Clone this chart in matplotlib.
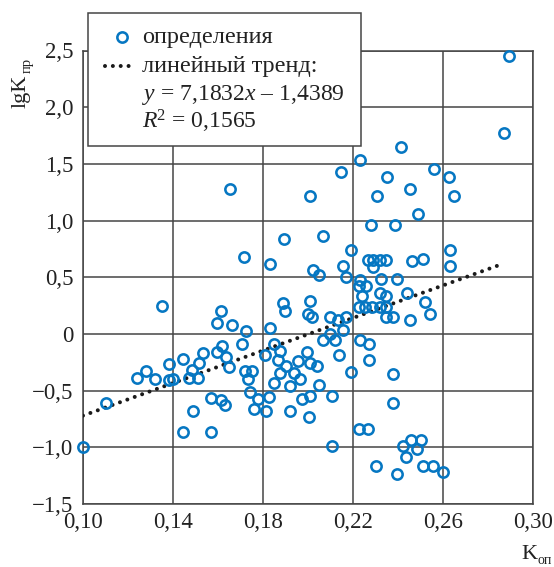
import matplotlib
matplotlib.use('Agg')
import matplotlib.pyplot as plt
from matplotlib.lines import Line2D
from matplotlib.patches import Rectangle

plt.rcParams['font.family'] = ['Liberation Serif', 'DejaVu Serif']
plt.rcParams['mathtext.fontset'] = 'custom'
plt.rcParams['mathtext.rm'] = 'Liberation Serif'
plt.rcParams['mathtext.it'] = 'Liberation Serif:italic'

# ---- data ----
k_op = [0.100, 0.110, 0.124, 0.128, 0.132, 0.1353, 0.138, 0.138, 0.140, 0.1445,
        0.1443, 0.147, 0.1485, 0.149, 0.151, 0.1517, 0.1535, 0.1568, 0.157, 0.1597,
        0.1597, 0.1613, 0.1618, 0.1615, 0.163, 0.1637, 0.1647, 0.1663, 0.1653, 0.1716,
        0.1724, 0.1705, 0.172, 0.1751, 0.1731, 0.1742, 0.1758, 0.1779, 0.1815, 0.1824,
        0.1809, 0.1831, 0.1831, 0.1849, 0.1876, 0.1864, 0.1848, 0.1876, 0.1888, 0.1896,
        0.1893, 0.1903, 0.192, 0.192, 0.1935, 0.1953, 0.1964, 0.1972, 0.2003, 0.1997,
        0.2006, 0.2039, 0.205, 0.2009, 0.2105, 0.2105, 0.1999, 0.2016, 0.2006, 0.2009,
        0.202, 0.2047, 0.2064, 0.2095, 0.2133, 0.2166, 0.2157, 0.2098, 0.2066, 0.212,
        0.2135, 0.2146, 0.2157, 0.2166, 0.2191, 0.2191, 0.2231, 0.2231, 0.2272, 0.2272,
        0.2224, 0.2264, 0.2302, 0.2279, 0.2304, 0.2264, 0.2286, 0.2317, 0.2347, 0.2286,
        0.2231, 0.2224, 0.2259, 0.2322, 0.2396, 0.2239, 0.232, 0.2347, 0.2224, 0.2253,
        0.2283, 0.232, 0.2347, 0.2347, 0.2379, 0.2351, 0.2387, 0.2379, 0.2379, 0.2394,
        0.2412, 0.242, 0.2436, 0.2456, 0.2501, 0.2483, 0.2511, 0.2556, 0.2599, 0.2453,
        0.2487, 0.2441, 0.2453, 0.246, 0.2508, 0.252, 0.2542, 0.2557, 0.2626, 0.2646,
        0.2631, 0.2629, 0.2868, 0.289]
lg_k = [-1.00, -0.61, -0.386, -0.33, -0.40, 0.25, -0.267, -0.41, -0.40, -0.224,
        -0.862, -0.385, -0.318, -0.68, -0.385, -0.259, -0.17, -0.862, -0.562, 0.10,
        -0.16, 0.20, -0.106, -0.58, -0.63, -0.203, -0.288, 0.075, 1.278, 0.68,
        0.024, -0.09, -0.326, -0.328, -0.40, -0.51, -0.662, -0.572, -0.68, -0.56,
        -0.185, 0.056, 0.618, -0.085, -0.153, -0.234, -0.432, -0.347, 0.27, 0.20,
        0.836, -0.28, -0.463, -0.678, -0.347, -0.238, -0.40, -0.576, -0.73, -0.156,
        -0.259, -0.282, -0.45, -0.547, -0.547, -0.988, 0.178, 0.153, 0.29, 1.215,
        0.568, 0.52, 0.862, 0.15, 0.124, 0.15, 0.033, 0.003, -0.056, -0.056,
        -0.185, 1.427, 0.60, 0.50, 0.738, -0.332, 1.535, -0.056, -0.088, -0.232,
        -0.835, -0.835, -1.168, 0.962, 1.215, 0.65, 0.65, 0.65, 0.65, 0.594,
        0.48, 0.424, 0.424, 0.483, 0.483, 0.338, 0.359, 0.338, 0.241, 0.241,
        0.241, 0.241, 0.241, 0.15, 0.15, 1.38, 0.962, -0.353, -0.61, -1.238,
        1.653, -0.987, -1.082, -0.935, -0.932, -1.012, -1.168, -1.168, -1.215, 1.279,
        1.059, 0.357, 0.124, 0.647, 0.66, 0.285, 0.175, 1.456, 1.38, 1.215,
        0.738, 0.597, 1.776, 2.453]

trend_slope = 7.1832
trend_intercept = -1.4389
trend_x = [0.100, 0.2868]

x_ticks = [0.10, 0.14, 0.18, 0.22, 0.26, 0.30]
x_tick_labels = ['0,10', '0,14', '0,18', '0,22', '0,26', '0,30']
y_ticks = [-1.5, -1.0, -0.5, 0, 0.5, 1.0, 1.5, 2.0, 2.5]
y_tick_labels = ['\u22121,5', '\u22121,0', '\u22120,5', '0', '0,5', '1,0', '1,5', '2,0', '2,5']

legend_points = 'определения'
legend_trend = 'линейный тренд:'
legend_eq = '$y$ = 7,1832$x$ \u2013 1,4389'
legend_r2 = '$R$$^{2}$ = 0,1565'

# ---- style ----
W, H = 554, 567
blue = '#0677c2'
gridc = '#454545'
textc = '#222222'

fig = plt.figure(figsize=(W / 100, H / 100), dpi=100)
ax = fig.add_axes([83 / W, 1 - 504 / H, (533.3 - 83) / W, (504 - 50.5) / H])

ax.set_xlim(0.10, 0.30)
ax.set_ylim(-1.5, 2.5)
ax.set_xticks(x_ticks)
ax.set_xticklabels(x_tick_labels)
ax.set_yticks(y_ticks)
ax.set_yticklabels(y_tick_labels)
ax.tick_params(length=0, labelsize=16.5, colors=textc)
ax.tick_params(axis='y', pad=7)
ax.tick_params(axis='x', pad=6)
ax.grid(True, color=gridc, linewidth=1.1)
ax.set_axisbelow(True)
for s in ax.spines.values():
    s.set_color(gridc)
    s.set_linewidth(1.1)

dot_style = dict(color='#1a1a1a', linewidth=2.9, linestyle=(0, (0.001, 1.95)),
                 dash_capstyle='round')
tx = trend_x
ty = [trend_slope * v + trend_intercept for v in tx]
ax.plot(tx, ty, zorder=3, **dot_style)

ax.plot(k_op, lg_k, linestyle='none', marker='o', markersize=7.4,
        markerfacecolor='none', markeredgecolor=blue, markeredgewidth=1.85,
        zorder=4, clip_on=False)

# ---- axis labels ----
fig.text(25.5 / W, 1 - 108 / H, 'lgK', rotation=90, rotation_mode='anchor',
         ha='left', va='baseline', fontsize=16, color=textc)
fig.text(30.5 / W, 1 - 73 / H, 'пр', rotation=90, rotation_mode='anchor',
         ha='left', va='baseline', fontsize=10.5, color=textc)
fig.text(521 / W, 1 - 559 / H, 'K', ha='left', va='baseline', fontsize=16,
         color=textc)
fig.text(538 / W, 1 - 564 / H, 'оп', ha='left', va='baseline', fontsize=10,
         color=textc)

# ---- legend box ----
box = Rectangle((88 / W, 1 - 146 / H), (361 - 88) / W, (146 - 13) / H,
                transform=fig.transFigure, facecolor='white', edgecolor=gridc,
                linewidth=1.1, zorder=10)
fig.add_artist(box)
m = Line2D([121.7 / W], [1 - 36.7 / H], transform=fig.transFigure, linestyle='none',
           marker='o', markersize=7.4, markerfacecolor='none', markeredgecolor=blue,
           markeredgewidth=1.85, zorder=11)
fig.add_artist(m)
dl = Line2D([105 / W, 133 / W], [1 - 66 / H, 1 - 66 / H], transform=fig.transFigure,
            zorder=11, **dot_style)
fig.add_artist(dl)
tx0 = 142.5 / W
for txt, base, fs in [(legend_points, 43, 17.5), (legend_trend, 72, 17.5),
                      (legend_eq, 100, 17), (legend_r2, 128.5, 17)]:
    fig.text(tx0, 1 - base / H, txt, ha='left', va='baseline', fontsize=fs,
             color=textc, zorder=12)

fig.savefig('out.png', dpi=100)
